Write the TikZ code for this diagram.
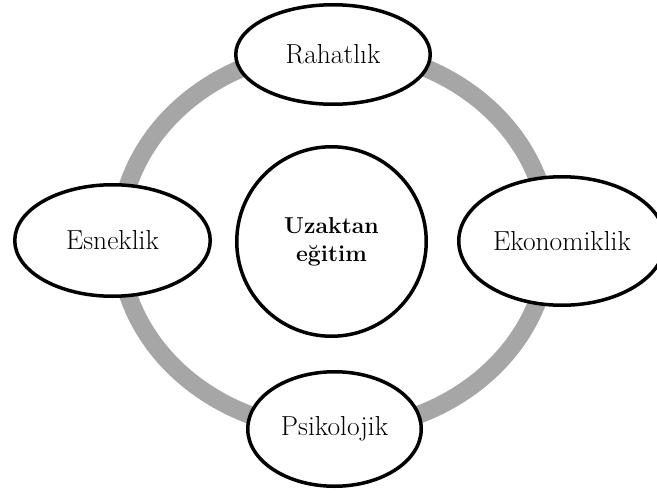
\documentclass[tikz,border=0pt]{standalone}
\usepackage{tikz}
\usetikzlibrary{shapes,backgrounds}
\definecolor{ringgray}{RGB}{166,166,166}
\tikzset{
  leaf/.style={ellipse, draw=black, line width=3.5pt, fill=white, inner sep=0pt,
    font=\fontsize{27.5}{32}\selectfont},
  hub/.style={circle, draw=black, line width=3.5pt, fill=white, inner sep=0pt,
    minimum size=189.5pt, align=center, font=\bfseries\fontsize{23}{28}\selectfont},
  ring/.style={draw=ringgray, line width=18pt}
}

\begin{document}
\begin{tikzpicture}[x=1pt,y=-1pt]
  \useasboundingbox (0,0) rectangle (657,493);
  %middle
  \coordinate (c) at (334,240);
  \node [hub] (u) at (331.5,241.5) {Uzaktan\\eğitim};
  %around
  \node [leaf, minimum width=194.5pt, minimum height=99.5pt] (r) at (333,54.5) {Rahatlık};
  \node [leaf, minimum width=195.5pt, minimum height=111.5pt] (e) at (112.5,240.5) {Esneklik};
  \node [leaf, minimum width=206.5pt, minimum height=128.5pt] (k) at (562,241) {Ekonomiklik};
  \node [leaf, minimum width=173.5pt, minimum height=114.5pt] (p) at (334.5,429) {Psikolojik};
  \begin{scope}[on background layer]
    \draw [ring] (c) ellipse [x radius=215pt, y radius=190pt];
  \end{scope}
\end{tikzpicture}
\end{document}
